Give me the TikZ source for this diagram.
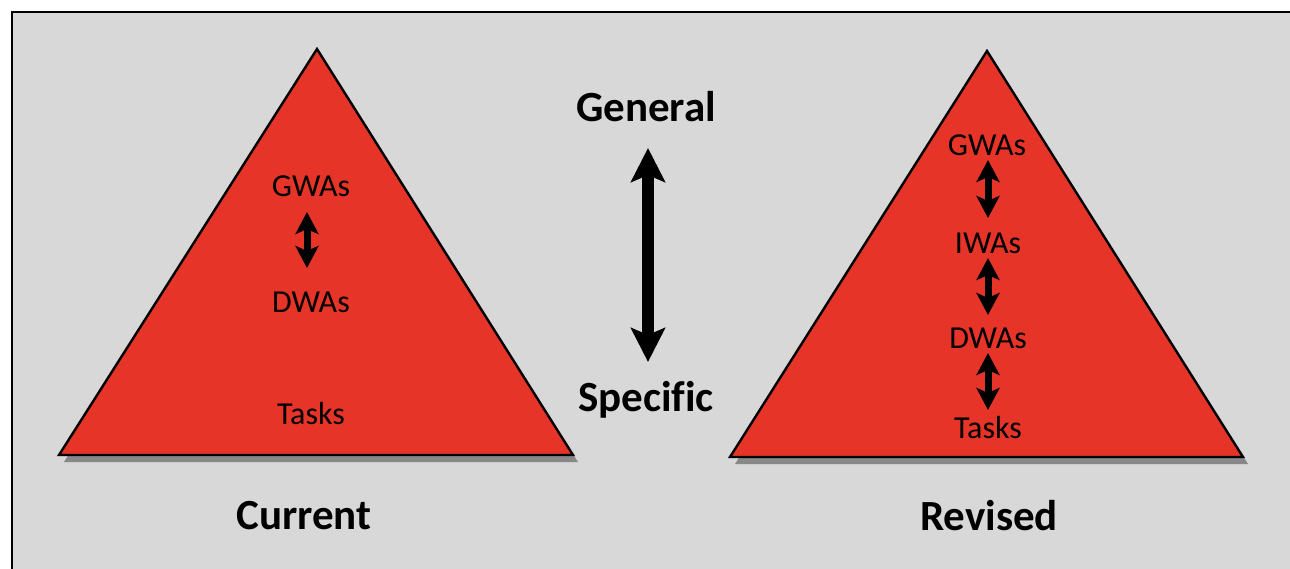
\documentclass[tikz,border=0pt]{standalone}
\usepackage{fontspec}
\setmainfont{Carlito}[Ligatures=NoCommon]
\usetikzlibrary{arrows.meta}
\definecolor{bg}{RGB}{216,216,216}
\definecolor{tri}{RGB}{230,53,40}
\definecolor{shadow}{RGB}{136,136,136}
\tikzset{
  px/.style={x=1pt,y=-1pt},
  trifill/.style={fill=tri,draw=black,line width=2.4pt,line join=miter},
  trishadow/.style={fill=shadow},
  lab/.style={font=\fontsize{32}{32}\selectfont,inner sep=0pt,anchor=center},
  big/.style={font=\fontsize{43}{43}\selectfont\bfseries,inner sep=0pt,anchor=center},
  smallarrow/.style={line width=7pt,{Stealth[length=22pt,width=23pt,inset=5pt]}-{Stealth[length=22pt,width=23pt,inset=5pt]}},
  bigarrow/.style={line width=12pt,{Stealth[length=34pt,width=34pt,inset=7pt]}-{Stealth[length=34pt,width=34pt,inset=7pt]}}
}
\begin{document}
\begin{tikzpicture}[px]
\useasboundingbox (0,0) rectangle (1290,569);
\begin{scope}
\clip (0,0) rectangle (1290,569);
\draw[fill=bg,line width=2.5pt] (12,12) rectangle (1310,590);
\end{scope}
% left triangle
\coordinate (LA) at (317,49);
\coordinate (LB) at (59,455);
\coordinate (LC) at (573,455);
\fill[trishadow] ([shift={(5,7)}]LA) -- ([shift={(5,7)}]LB) -- ([shift={(5,7)}]LC) -- cycle;
\draw[trifill] (LA) -- (LB) -- (LC) -- cycle;
% right triangle
\coordinate (RA) at (987,51);
\coordinate (RB) at (730,457);
\coordinate (RC) at (1243,457);
\fill[trishadow] ([shift={(5,7)}]RA) -- ([shift={(5,7)}]RB) -- ([shift={(5,7)}]RC) -- cycle;
\draw[trifill] (RA) -- (RB) -- (RC) -- cycle;
% left labels
\node[lab] (lg) at (311,186) {GWAs};
\node[lab] (ld) at (311,302) {DWAs};
\node[lab] (lt) at (311,414) {Tasks};
\coordinate (la1) at (307,212);
\coordinate (la2) at (307,268);
\draw[smallarrow] (la1) -- (la2);
% right labels
\node[lab] (rg) at (987,145) {GWAs};
\node[lab] (ri) at (988,243) {IWAs};
\node[lab] (rd) at (988,338) {DWAs};
\node[lab] (rt) at (988,428) {Tasks};
\coordinate (ra1) at (988,160);
\coordinate (ra2) at (988,218);
\coordinate (ra3) at (988,258);
\coordinate (ra4) at (988,315);
\coordinate (ra5) at (988,353);
\coordinate (ra6) at (988,410);
\draw[smallarrow] (ra1) -- (ra2);
\draw[smallarrow] (ra3) -- (ra4);
\draw[smallarrow] (ra5) -- (ra6);
% middle
\node[big] (gen) at (646,107) {General};
\node[big] (spe) at (646,400) {Specific};
\coordinate (ba1) at (648,148);
\coordinate (ba2) at (648,362);
\draw[bigarrow] (ba1) -- (ba2);
% captions
\node[big] (cur) at (304,516) {Current};
\node[big] (rev) at (989,516) {Revised};
\end{tikzpicture}
\end{document}
